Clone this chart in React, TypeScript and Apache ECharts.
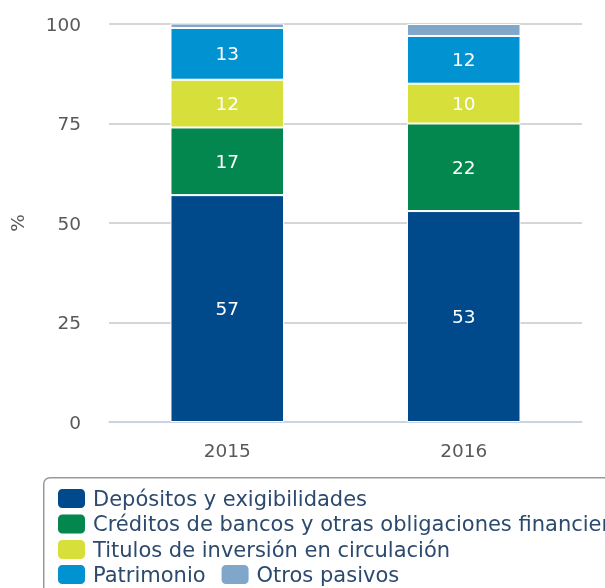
import React, { useEffect, useRef } from "react";
import * as echarts from "echarts";

const categories = ["2015", "2016"];
const seriesNames = [
  "Depósitos y exigibilidades",
  "Créditos de bancos y otras obligaciones financieras",
  "Titulos de inversión en circulación",
  "Patrimonio",
  "Otros pasivos",
];
const depositos = [57, 53];
const creditos = [17, 22];
const titulos = [12, 10];
const patrimonio = [13, 12];
const otros = [1.3, 3];
const seriesValues = [depositos, creditos, titulos, patrimonio, otros];
const seriesColors = ["#004a8c", "#03874f", "#d7e03b", "#0092d1", "#80a6c9"];
const showLabels = [true, true, true, true, false];
const yTicks = { min: 0, max: 100, interval: 25 };

const FONT = "DejaVu Sans";

const legendCommon = {
  itemWidth: 29,
  itemHeight: 21,
  icon: "roundRect",
  padding: 0,
  textStyle: {
    color: "#2c4a6e",
    fontSize: 21,
    lineHeight: 21,
    fontFamily: FONT,
    padding: [0, 0, 0, 2],
  },
};

export default function App() {
  const ref = useRef<HTMLDivElement>(null);
  useEffect(() => {
    if (!ref.current) return;
    const chart = echarts.init(ref.current, null, { renderer: "svg" });
    chart.setOption({
      animation: false,
      textStyle: { fontFamily: FONT },
      grid: { left: 108, right: 23, top: 24, bottom: 166 },
      graphic: [
        {
          type: "rect",
          left: 43,
          top: 477,
          shape: { width: 620, height: 130, r: 6 },
          style: { fill: "#ffffff", stroke: "#999999", lineWidth: 1.5 },
          z: -10,
        },
      ],
      xAxis: {
        type: "category",
        data: categories,
        axisLine: { lineStyle: { color: "#c6d4e4", width: 1.5 } },
        axisTick: { length: 15, lineStyle: { color: "#c6d4e4", width: 1.5 } },
        axisLabel: { color: "#595959", fontSize: 18.5, margin: 19, fontFamily: FONT },
      },
      yAxis: {
        type: "value",
        min: yTicks.min,
        max: yTicks.max,
        interval: yTicks.interval,
        name: "%",
        nameLocation: "middle",
        nameRotate: 90,
        nameGap: 82,
        nameTextStyle: { color: "#595959", fontSize: 18.5, fontFamily: FONT },
        axisLine: { show: false },
        axisTick: { show: false },
        axisLabel: { color: "#595959", fontSize: 18.5, margin: 28, fontFamily: FONT },
        splitLine: { lineStyle: { color: "#c8c8c8", width: 1.5 } },
      },
      legend: [
        {
          ...legendCommon,
          left: 56,
          top: 487,
          orient: "vertical",
          itemGap: 2.5,
          data: seriesNames.slice(0, 3),
        },
        {
          ...legendCommon,
          left: 56,
          top: 563,
          orient: "horizontal",
          itemGap: 14,
          data: seriesNames.slice(3),
        },
      ],
      series: seriesNames.map((name, i) => ({
        name,
        type: "bar",
        stack: "total",
        barWidth: "48%",
        data: seriesValues[i],
        itemStyle: { color: seriesColors[i], borderColor: "#ffffff", borderWidth: 1 },
        label: {
          show: showLabels[i],
          position: "inside",
          color: "#ffffff",
          fontSize: 18.5,
          fontFamily: FONT,
        },
      })),
    });
    return () => chart.dispose();
  }, []);
  return (
    <div
      ref={ref}
      style={{ position: "fixed", left: 0, top: 0, width: 605, height: 588 }}
    />
  );
}
